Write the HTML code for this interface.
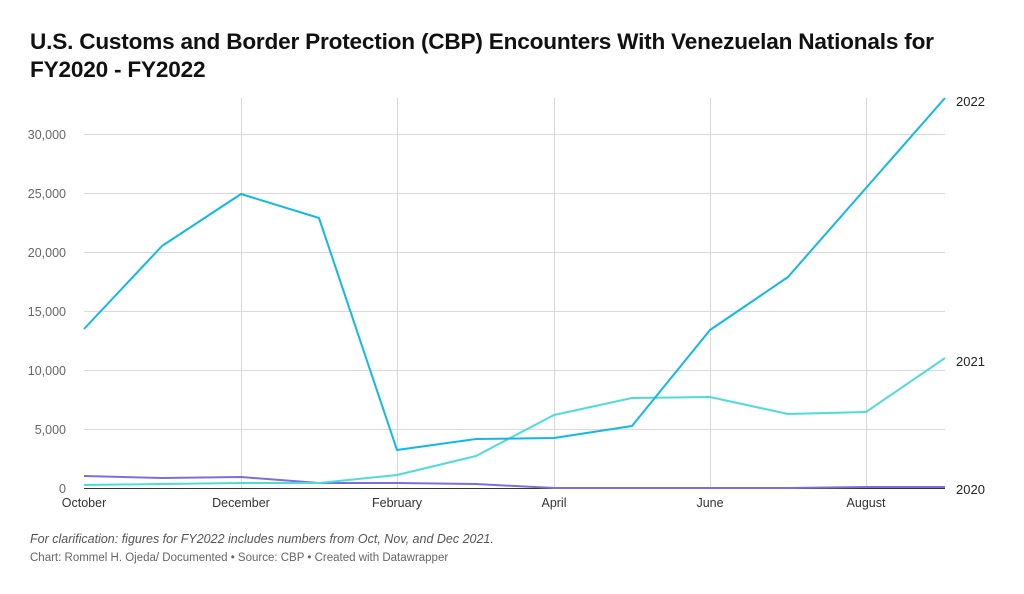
<!DOCTYPE html>
<html><head><meta charset="utf-8"><style>
body{margin:0;background:#fff;width:1024px;height:594px;overflow:hidden;font-family:"Liberation Sans",sans-serif}
.t{position:absolute;left:30px;top:28px;font-size:22.6px;font-weight:bold;color:#111;line-height:28px;letter-spacing:-0.2px}
.n{position:absolute;left:30px;top:532px;font-size:12.5px;font-style:italic;color:#555}
.s{position:absolute;left:30px;top:552px;font-size:11.5px;color:#666}
</style></head><body>
<div class="t">U.S. Customs and Border Protection (CBP) Encounters With Venezuelan Nationals for<br>FY2020 - FY2022</div>
<svg width="1024" height="594" style="position:absolute;left:0;top:0" font-family="Liberation Sans, sans-serif">
<g stroke="#d9d9d9" stroke-width="1">
<line x1="84" x2="945" y1="134.5" y2="134.5"/><line x1="84" x2="945" y1="193.5" y2="193.5"/>
<line x1="84" x2="945" y1="252.5" y2="252.5"/><line x1="84" x2="945" y1="311.5" y2="311.5"/>
<line x1="84" x2="945" y1="370.5" y2="370.5"/><line x1="84" x2="945" y1="429.5" y2="429.5"/>
<line x1="241.5" x2="241.5" y1="98" y2="488"/><line x1="397.5" x2="397.5" y1="98" y2="488"/>
<line x1="554.5" x2="554.5" y1="98" y2="488"/><line x1="710.5" x2="710.5" y1="98" y2="488"/>
<line x1="866.5" x2="866.5" y1="98" y2="488"/>
</g>
<line x1="84" x2="945" y1="488.5" y2="488.5" stroke="#333"/>
<g font-size="12.5" fill="#666" text-anchor="end">
<text x="66" y="139">30,000</text><text x="66" y="198">25,000</text><text x="66" y="257">20,000</text>
<text x="66" y="316">15,000</text><text x="66" y="375">10,000</text><text x="66" y="434">5,000</text><text x="66" y="493">0</text>
</g>
<g font-size="12.5" fill="#333" text-anchor="middle">
<text x="84" y="507">October</text><text x="241" y="507">December</text><text x="397" y="507">February</text>
<text x="554" y="507">April</text><text x="710" y="507">June</text><text x="866" y="507">August</text>
</g>
<g fill="none" stroke-width="2" stroke-linejoin="round">
<polyline stroke="#7b6fe0" points="84,476 162,478 241,477 319,483 397,483 476,484 554,488 632,488 710,488 788,488 866,487 945,487"/>
<polyline stroke="#4fdcd8" points="84,485 162,484 241,483 319,483 397,475 476,456 554,415 632,398 710,397 788,414 866,412 945,358"/>
<polyline stroke="#12b8e6" points="84,329 162,246 241,194 319,218 397,450 476,439 554,438 632,426 710,330 788,277 866,188 945,98"/>
</g>
<g font-size="13" fill="#222">
<text x="956" y="106">2022</text><text x="956" y="366">2021</text><text x="956" y="494">2020</text>
</g>
</svg>
<div class="n">For clarification: figures for FY2022 includes numbers from Oct, Nov, and Dec 2021.</div>
<div class="s">Chart: Rommel H. Ojeda/ Documented • Source: CBP • Created with Datawrapper</div>
</body></html>
